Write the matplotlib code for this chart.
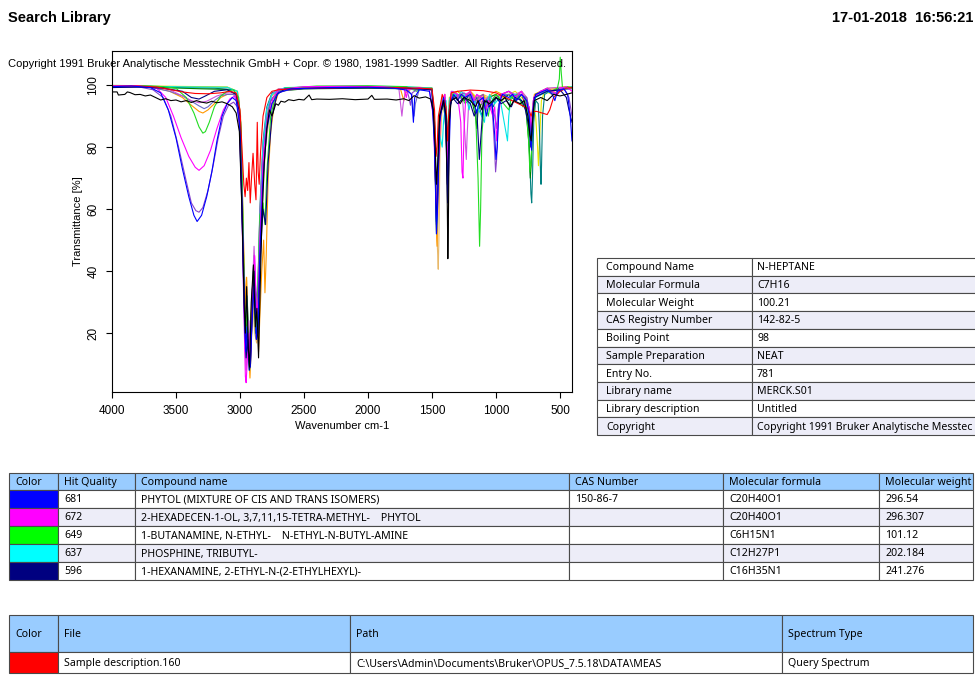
import matplotlib
matplotlib.use("Agg")
import matplotlib.pyplot as plt
from matplotlib.patches import Rectangle

# === Spectra (wavenumber cm-1, transmittance %) ===
phytol_blue = [(4000, 99.5), (3850, 99.7), (3700, 99.2), (3620, 97.5), (3560, 92), (3500, 83), (3450, 73), (3400, 64),
               (3360, 58), (3335, 56), (3300, 58), (3260, 64), (3220, 72), (3180, 82), (3140, 90), (3100, 94),
               (3060, 96), (3030, 95), (3005, 88), (2985, 60), (2965, 25), (2955, 14), (2945, 22), (2930, 12),
               (2920, 9), (2908, 22), (2890, 35), (2872, 18), (2858, 24), (2845, 45), (2820, 70), (2790, 86),
               (2750, 94), (2700, 97.5), (2600, 98.8), (2300, 99.2), (2000, 99.3), (1800, 99), (1700, 98.4),
               (1660, 97), (1645, 88), (1635, 96), (1600, 98.5), (1520, 98), (1495, 92), (1480, 80), (1465, 52),
               (1455, 62), (1440, 88), (1410, 96), (1390, 88), (1378, 62), (1370, 72), (1355, 94), (1330, 97),
               (1300, 95), (1270, 97), (1240, 96), (1200, 97), (1170, 94), (1150, 91), (1130, 95), (1100, 96),
               (1075, 90), (1060, 93), (1030, 94), (1010, 84), (1000, 76), (990, 80), (975, 94), (950, 97),
               (900, 96), (870, 97), (840, 95), (800, 97), (760, 95), (740, 90), (730, 82), (722, 79), (712, 92),
               (690, 97), (600, 98.5), (560, 97), (540, 95), (520, 98), (470, 98.8), (440, 97), (420, 90), (406, 82)]

phytol_magenta = [(4000, 99.8), (3800, 99.8), (3650, 99), (3580, 96), (3520, 90), (3460, 83), (3400, 77), (3350, 73.5),
                  (3320, 72.5), (3280, 74), (3230, 79), (3180, 86), (3130, 92), (3080, 95.5), (3040, 96.5),
                  (3010, 93), (2990, 70), (2970, 28), (2958, 6), (2952, 4), (2942, 12), (2930, 20), (2920, 10),
                  (2905, 30), (2885, 45), (2870, 25), (2855, 32), (2840, 55), (2815, 78), (2780, 90), (2740, 96),
                  (2700, 98.5), (2500, 99.5), (2200, 99.6), (1900, 99.5), (1720, 99), (1700, 96), (1690, 98.5),
                  (1600, 99.2), (1520, 98.5), (1490, 90), (1470, 66), (1460, 58), (1450, 74), (1430, 93),
                  (1400, 97), (1385, 86), (1378, 70), (1368, 88), (1345, 98), (1300, 97), (1275, 88), (1265, 72),
                  (1258, 70), (1250, 85), (1235, 97), (1200, 98), (1170, 95), (1150, 97), (1110, 96), (1080, 92),
                  (1060, 95), (1025, 90), (1010, 93), (995, 82), (985, 88), (960, 97), (900, 98), (850, 96),
                  (800, 98), (770, 94), (740, 93), (722, 85), (705, 96), (650, 98), (600, 99), (520, 97),
                  (500, 99), (450, 99.5), (406, 98)]

amine_green = [(4000, 99.9), (3750, 99.8), (3600, 99.5), (3500, 99), (3420, 96), (3360, 91), (3320, 86.5),
               (3290, 84.5), (3270, 85), (3240, 88), (3200, 93), (3150, 96.5), (3100, 98), (3050, 98.5), (3010, 96),
               (2990, 85), (2970, 40), (2960, 18), (2950, 26), (2935, 20), (2925, 14), (2910, 28), (2895, 40),
               (2875, 22), (2860, 35), (2845, 58), (2820, 62), (2805, 55), (2790, 72), (2760, 90), (2720, 97),
               (2650, 99), (2400, 99.7), (2000, 99.8), (1700, 99.5), (1620, 98), (1580, 99), (1500, 99),
               (1480, 88), (1465, 60), (1455, 68), (1440, 92), (1400, 96), (1380, 82), (1375, 78), (1365, 92),
               (1340, 97), (1300, 95), (1280, 97), (1240, 94), (1200, 96), (1160, 92), (1140, 70), (1128, 48),
               (1120, 60), (1110, 84), (1090, 95), (1060, 90), (1045, 94), (1000, 97), (960, 95), (900, 92),
               (880, 96), (830, 97), (790, 93), (770, 96), (745, 82), (735, 72), (725, 76), (712, 90), (690, 97),
               (600, 99), (560, 98), (520, 99), (505, 102), (498, 109), (490, 104), (480, 99), (440, 99.5),
               (406, 99)]

phosphine_cyan = [(4000, 99.5), (3700, 99.6), (3400, 99.4), (3100, 99.3), (3020, 98), (2995, 88), (2975, 40),
                  (2960, 15), (2950, 22), (2935, 12), (2925, 8), (2910, 25), (2895, 40), (2875, 20), (2860, 30),
                  (2845, 55), (2820, 80), (2790, 92), (2750, 97), (2650, 99.2), (2300, 99.5), (2000, 99.6),
                  (1700, 99.5), (1500, 99), (1480, 85), (1465, 52), (1458, 60), (1445, 85), (1420, 80),
                  (1410, 88), (1390, 95), (1378, 82), (1365, 95), (1340, 98), (1300, 96), (1270, 98), (1230, 96),
                  (1210, 92), (1190, 97), (1090, 88), (1080, 93), (1050, 97), (1010, 94), (970, 96), (910, 82),
                  (900, 90), (880, 97), (800, 97), (770, 95), (740, 88), (722, 80), (710, 93), (690, 96),
                  (600, 98), (540, 97), (480, 98.5), (406, 99.5)]

hexanamine_navy = [(4000, 99.2), (3800, 99.4), (3600, 99), (3450, 98), (3380, 96), (3320, 95.5), (3270, 96.5),
                   (3200, 98), (3100, 98.5), (3030, 97), (3000, 90), (2980, 55), (2960, 20), (2952, 12), (2940, 18),
                   (2928, 8), (2918, 10), (2905, 25), (2890, 40), (2872, 18), (2858, 20), (2845, 42), (2820, 60),
                   (2800, 55), (2780, 75), (2750, 90), (2710, 97), (2650, 98.7), (2300, 99), (2000, 99.1),
                   (1700, 99), (1500, 98.5), (1480, 82), (1465, 55), (1458, 62), (1440, 90), (1400, 95),
                   (1380, 68), (1375, 74), (1360, 93), (1340, 96), (1300, 94), (1250, 96), (1200, 94), (1170, 90),
                   (1150, 92), (1130, 76), (1120, 82), (1100, 94), (1070, 95), (1050, 93), (1000, 96), (960, 94),
                   (920, 95), (880, 93), (850, 96), (800, 95), (770, 92), (740, 86), (728, 80), (718, 86),
                   (700, 96), (600, 98), (500, 98.5), (450, 96), (430, 92), (406, 88)]

query_red = [(4000, 99.6), (3800, 99.7), (3650, 99.4), (3550, 98.6), (3450, 97.8), (3350, 97.3), (3250, 97.2),
             (3150, 97.5), (3080, 98), (3030, 97.5), (3000, 92), (2985, 80), (2970, 68), (2960, 64), (2950, 70),
             (2940, 66), (2930, 75), (2920, 62), (2910, 70), (2898, 78), (2885, 68), (2875, 63), (2865, 88),
             (2858, 72), (2850, 68), (2840, 78), (2820, 90), (2790, 96), (2750, 98), (2700, 98.5), (2500, 99),
             (2200, 99.2), (2000, 99.3), (1800, 99.2), (1600, 99), (1500, 98.8), (1480, 92), (1468, 77),
             (1460, 80), (1450, 90), (1420, 97), (1390, 93), (1378, 82), (1370, 90), (1350, 97.5), (1300, 98),
             (1200, 98.4), (1100, 98.2), (1000, 97.5), (950, 96.5), (900, 95.5), (850, 94.5), (800, 93.5),
             (750, 92.5), (725, 90), (715, 91.5), (680, 91.5), (640, 91), (600, 90.5), (580, 92), (550, 96),
             (500, 98), (450, 99), (406, 99.2)]

hit_black = [(4000, 97.8), (3960, 97.8), (3950, 96.8), (3900, 97), (3880, 97.8), (3860, 97.6), (3820, 96.9),
             (3780, 97), (3740, 96.5), (3700, 96.8), (3660, 96), (3620, 95.2), (3580, 95.6), (3540, 95),
             (3500, 95.2), (3460, 94.6), (3420, 95), (3380, 94.4), (3340, 95), (3300, 94.5), (3260, 94.2),
             (3220, 94.8), (3180, 94.3), (3140, 94.6), (3100, 94), (3060, 93), (3030, 91), (3005, 85), (2985, 60),
             (2968, 30), (2958, 20), (2948, 35), (2935, 15), (2925, 9), (2912, 30), (2895, 42), (2880, 22),
             (2868, 28), (2855, 12), (2845, 30), (2830, 55), (2810, 75), (2790, 86), (2770, 92), (2750, 90),
             (2735, 92), (2720, 94), (2700, 93.5), (2680, 94.8), (2650, 94.5), (2620, 95.3), (2580, 95),
             (2540, 95.4), (2500, 95.2), (2460, 96.8), (2440, 95.3), (2400, 95.5), (2300, 95.4), (2200, 95.6),
             (2100, 95.3), (2000, 95.5), (1970, 96.7), (1950, 95.4), (1850, 95.5), (1780, 95.2), (1720, 95.6),
             (1680, 95), (1640, 96.6), (1600, 95.8), (1550, 96.2), (1510, 95.5), (1490, 92), (1475, 80),
             (1465, 68), (1455, 75), (1440, 90), (1410, 95), (1390, 90), (1380, 60), (1376, 44), (1372, 55),
             (1365, 88), (1350, 95), (1310, 96), (1280, 94), (1250, 96), (1200, 95), (1160, 93), (1140, 95),
             (1110, 92), (1090, 95), (1050, 94), (1000, 96), (960, 95), (930, 96), (890, 93), (860, 95),
             (810, 94), (780, 95), (750, 90), (735, 84), (725, 82), (715, 88), (700, 95), (650, 96), (600, 95),
             (550, 97), (500, 96.5), (450, 97), (406, 97.5)]

hit_orange = [(4000, 99.5), (3700, 99.5), (3550, 98), (3450, 96), (3380, 93.5), (3320, 91.5), (3290, 91),
              (3250, 92), (3200, 94), (3150, 96), (3100, 97), (3040, 97), (3010, 94), (2990, 80), (2970, 45),
              (2958, 28), (2948, 38), (2935, 15), (2922, 5.5), (2910, 18), (2895, 35), (2880, 28), (2868, 32),
              (2855, 14), (2845, 25), (2830, 40), (2815, 50), (2805, 33), (2795, 45), (2780, 70), (2760, 85),
              (2735, 93), (2700, 97.5), (2600, 99), (2300, 99.4), (2000, 99.5), (1750, 99.3), (1720, 95),
              (1710, 97.5), (1650, 99), (1500, 98.8), (1480, 88), (1468, 55), (1460, 48), (1450, 68),
              (1430, 93), (1400, 97), (1378, 78), (1370, 86), (1350, 97), (1300, 98), (1250, 96), (1200, 98),
              (1150, 95), (1100, 97), (1060, 93), (1040, 97), (1000, 98), (950, 97), (900, 98), (850, 96),
              (800, 98), (760, 94), (740, 88), (725, 85), (715, 92), (700, 97), (650, 98), (600, 98.5),
              (500, 99), (406, 99.2)]

hit_purple = [(4000, 99.3), (3800, 99.5), (3680, 98.5), (3600, 96), (3540, 90), (3480, 80), (3420, 69), (3380, 62),
              (3345, 59.5), (3320, 59), (3290, 60.5), (3250, 66), (3210, 74), (3170, 83), (3130, 90), (3090, 93.5),
              (3050, 94.5), (3020, 93), (3000, 85), (2980, 55), (2962, 22), (2953, 12), (2945, 20), (2930, 15),
              (2920, 11), (2908, 28), (2890, 42), (2872, 25), (2860, 30), (2845, 52), (2820, 76), (2790, 89),
              (2760, 95), (2700, 98), (2500, 99), (2200, 99.2), (1900, 99.3), (1700, 99), (1680, 96),
              (1668, 93.5), (1655, 97.5), (1600, 99), (1500, 98.5), (1480, 85), (1466, 57), (1458, 64),
              (1440, 90), (1400, 96), (1385, 85), (1378, 67), (1370, 78), (1355, 95), (1300, 96.5), (1250, 97.5),
              (1200, 96), (1160, 93), (1140, 96), (1100, 97), (1080, 92), (1060, 95), (1030, 93), (1012, 80),
              (1003, 72), (995, 76), (980, 92), (960, 97), (900, 98), (850, 96.5), (810, 97), (760, 96),
              (740, 92), (726, 85), (718, 87), (705, 96), (650, 98), (600, 98.5), (540, 97), (520, 98.5),
              (470, 99), (430, 96), (406, 90)]

hit_tan = [(4000, 99.8), (3600, 99.6), (3300, 99.4), (3100, 99.3), (3020, 98), (2995, 90), (2975, 55), (2962, 30),
           (2950, 38), (2935, 22), (2925, 16), (2915, 26), (2900, 30), (2885, 20), (2870, 16.8), (2858, 24),
           (2845, 40), (2825, 62), (2800, 80), (2770, 90), (2730, 96), (2680, 98.5), (2500, 99.2), (2000, 99.5),
           (1700, 99.3), (1500, 99), (1475, 80), (1462, 52), (1455, 45), (1451, 40.6), (1446, 50), (1438, 78),
           (1420, 94), (1400, 97), (1380, 72), (1372, 80), (1360, 95), (1330, 98), (1300, 96), (1260, 97),
           (1220, 95), (1190, 97), (1150, 96), (1120, 93), (1100, 97), (1050, 96), (1000, 97), (950, 95),
           (900, 97), (860, 96), (800, 98), (760, 96), (735, 90), (724, 84), (712, 90), (695, 97), (650, 98),
           (600, 99), (500, 99.2), (406, 99.5)]

hit_teal = [(4000, 99.5), (3600, 99.3), (3200, 99), (3050, 98.5), (3010, 95), (2990, 80), (2970, 40), (2958, 20),
            (2945, 32), (2930, 18), (2920, 14), (2908, 30), (2890, 45), (2873, 30), (2860, 35), (2845, 60),
            (2820, 82), (2790, 93), (2750, 97.5), (2650, 99), (2300, 99.3), (2000, 99.4), (1700, 99.2),
            (1500, 98.8), (1478, 86), (1466, 64), (1456, 70), (1440, 91), (1410, 95), (1380, 80), (1372, 86),
            (1355, 96), (1300, 97), (1250, 95), (1210, 97), (1180, 94), (1150, 96), (1110, 90), (1095, 94),
            (1060, 96), (1020, 93), (1000, 96), (960, 97), (900, 95), (870, 97), (820, 96), (780, 94),
            (750, 90), (735, 75), (727, 65), (721, 62), (715, 70), (705, 88), (690, 95), (670, 94), (660, 85),
            (652, 72), (648, 68), (644, 74), (636, 90), (620, 97), (580, 98), (500, 99), (406, 99.3)]

hit_yellow = [(4000, 99.7), (3500, 99.6), (3100, 99.4), (3020, 98), (2995, 88), (2975, 50), (2960, 25), (2950, 30),
              (2935, 20), (2925, 15), (2910, 30), (2893, 40), (2875, 25), (2860, 30), (2845, 50), (2825, 72),
              (2800, 88), (2760, 96), (2700, 98.8), (2300, 99.4), (1900, 99.5), (1600, 99.3), (1500, 99),
              (1480, 84), (1468, 58), (1458, 66), (1442, 90), (1420, 96), (1378, 84), (1365, 96), (1300, 98),
              (1240, 96), (1200, 98), (1150, 96), (1100, 97), (1040, 94), (1000, 97), (950, 96), (900, 97),
              (850, 98), (800, 96), (760, 94), (740, 90), (725, 86), (712, 94), (690, 90), (675, 80), (668, 74),
              (660, 82), (645, 95), (620, 98), (560, 97), (530, 99), (470, 99.5), (406, 99.4)]

hit_orchid = [(4000, 99.8), (3700, 99.7), (3550, 98.5), (3450, 96.5), (3380, 95), (3320, 94.3), (3260, 94.8),
              (3180, 96.5), (3100, 97.5), (3040, 97.5), (3010, 94), (2990, 75), (2972, 35), (2960, 15), (2952, 8),
              (2942, 16), (2930, 24), (2920, 12), (2907, 30), (2890, 48), (2872, 28), (2860, 34), (2845, 58),
              (2820, 80), (2790, 92), (2750, 97), (2700, 98.8), (2400, 99.5), (2000, 99.6), (1760, 99.4),
              (1735, 90), (1725, 94), (1700, 99), (1600, 99.2), (1500, 99), (1480, 86), (1466, 62), (1455, 70),
              (1440, 92), (1400, 97), (1380, 80), (1370, 90), (1350, 98), (1300, 97), (1260, 95), (1240, 82),
              (1232, 76), (1225, 84), (1210, 97), (1170, 95), (1150, 97), (1110, 94), (1070, 96), (1040, 92),
              (1020, 96), (960, 97), (900, 98), (850, 97), (800, 98), (760, 96), (730, 90), (720, 88),
              (710, 95), (650, 98), (600, 99), (500, 99.3), (406, 99)]

hit_darkgreen = [(4000, 99.4), (3600, 99.2), (3300, 98.8), (3100, 98.6), (3030, 97), (3000, 88), (2980, 55),
                 (2965, 28), (2955, 18), (2945, 25), (2932, 16), (2922, 12), (2910, 25), (2895, 38), (2878, 20),
                 (2862, 26), (2848, 45), (2825, 70), (2800, 86), (2760, 95), (2700, 98), (2500, 98.8),
                 (2000, 99), (1700, 98.8), (1500, 98.5), (1480, 85), (1466, 56), (1458, 63), (1442, 90),
                 (1400, 95), (1380, 74), (1372, 82), (1358, 95), (1300, 97), (1250, 95), (1200, 97), (1160, 90),
                 (1150, 86), (1140, 92), (1100, 95), (1080, 92), (1060, 96), (1000, 97), (960, 95), (900, 97),
                 (850, 95), (800, 97), (770, 94), (740, 80), (732, 70), (725, 74), (712, 90), (700, 96),
                 (650, 97), (600, 98), (500, 98.5), (406, 99)]

hit_slate = [(4000, 99.4), (3700, 99.3), (3550, 98), (3450, 96.5), (3380, 94.8), (3320, 93.3), (3280, 92.4),
             (3250, 93), (3200, 95), (3150, 96.5), (3100, 97), (3050, 97), (3015, 94), (2995, 82), (2975, 45),
             (2962, 22), (2952, 16), (2940, 24), (2930, 14), (2918, 10), (2906, 26), (2890, 40), (2874, 22),
             (2860, 26), (2846, 48), (2825, 74), (2795, 88), (2760, 95), (2700, 98.2), (2500, 99), (2000, 99.2),
             (1700, 99), (1660, 97), (1640, 90), (1630, 94), (1600, 98.5), (1500, 98.6), (1480, 86),
             (1466, 60), (1456, 68), (1440, 90), (1400, 96), (1380, 78), (1372, 86), (1358, 96), (1300, 97),
             (1240, 96), (1200, 97.5), (1150, 94), (1120, 96), (1080, 94), (1050, 96), (1010, 90), (995, 86),
             (985, 92), (960, 97), (900, 97), (850, 96), (800, 97), (760, 95), (735, 88), (722, 86), (710, 93),
             (690, 97), (600, 98), (520, 97), (500, 98.5), (406, 98.8)]

spectra = [
    (hit_tan, "#E8B868"), (hit_yellow, "#E6E600"), (hit_orange, "#FF9900"), (hit_teal, "#008080"),
    (hit_darkgreen, "#008000"), (hit_slate, "#6A6AC8"), (hit_orchid, "#CC55DD"), (phosphine_cyan, "#00E5E5"),
    (amine_green, "#22DD22"), (hit_purple, "#8844CC"), (phytol_magenta, "#FF00FF"), (hexanamine_navy, "#000080"),
    (query_red, "#FF0000"), (phytol_blue, "#0000FF"), (hit_black, "#000000"),
]

# === Table contents ===
info_labels = ["Compound Name", "Molecular Formula", "Molecular Weight", "CAS Registry Number", "Boiling Point",
               "Sample Preparation", "Entry No.", "Library name", "Library description", "Copyright"]
info_values = ["N-HEPTANE", "C7H16", "100.21", "142-82-5", "98", "NEAT", "781", "MERCK.S01", "Untitled",
               "Copyright 1991 Bruker Analytische Messtec"]

hit_header = ["Color", "Hit Quality", "Compound name", "CAS Number", "Molecular formula", "Molecular weight"]
hit_colors = ["#0000FF", "#FF00FF", "#00FF00", "#00FFFF", "#000080"]
hit_quality = ["681", "672", "649", "637", "596"]
hit_names = ["PHYTOL (MIXTURE OF CIS AND TRANS ISOMERS)", "2-HEXADECEN-1-OL, 3,7,11,15-TETRA-METHYL-    PHYTOL",
             "1-BUTANAMINE, N-ETHYL-    N-ETHYL-N-BUTYL-AMINE", "PHOSPHINE, TRIBUTYL-",
             "1-HEXANAMINE, 2-ETHYL-N-(2-ETHYLHEXYL)-"]
hit_cas = ["150-86-7", "", "", "", ""]
hit_formula = ["C20H40O1", "C20H40O1", "C6H15N1", "C12H27P1", "C16H35N1"]
hit_weight = ["296.54", "296.307", "101.12", "202.184", "241.276"]

file_header = ["Color", "File", "Path", "Spectrum Type"]
file_color = "#FF0000"
file_row = ["Sample description.160", "C:\\Users\\Admin\\Documents\\Bruker\\OPUS_7.5.18\\DATA\\MEAS", "Query Spectrum"]

W, H = 975, 681
fig = plt.figure(figsize=(W / 100, H / 100), dpi=100)

# === Spectrum plot ===
ax = fig.add_axes([112 / W, 1 - 392 / H, 460 / W, 341 / H])
for data, col in spectra:
    ax.plot([p[0] for p in data], [p[1] for p in data], color=col, lw=0.8)
ax.set_xlim(4000, 406)
ax.set_ylim(1.0, 111)
ax.set_xticks([4000, 3500, 3000, 2500, 2000, 1500, 1000, 500])
ax.set_yticks([20, 40, 60, 80, 100])
ax.tick_params(direction="out", length=4, width=0.8, labelsize=8.5, pad=5)
ax.tick_params(axis="y", labelrotation=90)
for lab in ax.get_yticklabels():
    lab.set_va("center")
for sp in ax.spines.values():
    sp.set_linewidth(0.8)
ax.set_xlabel("Wavenumber cm-1", fontsize=8, labelpad=3)
ax.set_ylabel("Transmittance [%]", fontsize=8, labelpad=3)
for t in ax.get_xticklabels() + ax.get_yticklabels() + [ax.xaxis.label, ax.yaxis.label]:
    t.set_family("Liberation Sans")

# === Overlay for texts and tables (pixel coordinates) ===
ov = fig.add_axes([0, 0, 1, 1], zorder=5)
ov.set_xlim(0, W)
ov.set_ylim(H, 0)
ov.axis("off")

ov.text(8, 18, "Search Library", fontsize=10.5, fontweight="bold", family="Liberation Sans", va="center")
ov.text(973, 18, "17-01-2018  16:56:21", fontsize=10.5, fontweight="bold", family="Liberation Sans",
        va="center", ha="right")
cp = ov.text(8, 64, "Copyright 1991 Bruker Analytische Messtechnik GmbH + Copr. \u00a9 1980, 1981-1999 Sadtler.  All Rights Reserved.",
             fontsize=8, family="Liberation Sans", va="center")
fig.canvas.draw()
cp.set_fontsize(cp.get_fontsize() * 560 / cp.get_window_extent().width)

LAV = "#EDEDF8"
HEAD = "#99CCFF"
EDGE = "#4A4A4A"
TFONT = dict(fontsize=7.6, family="Noto Sans", va="center", ha="left", clip_on=False)


def cell(x0, x1, y0, y1, fc):
    ov.add_patch(Rectangle((x0, y0), x1 - x0, y1 - y0, facecolor=fc, edgecolor=EDGE, lw=0.8, clip_on=False))


# info table on the right
ix = [597, 752, 1000]
iy0, ih = 258, 17.7
for i, (lab, val) in enumerate(zip(info_labels, info_values)):
    y0 = iy0 + i * ih
    fc = "white" if i % 2 == 0 else LAV
    cell(ix[0], ix[1], y0, y0 + ih, fc)
    cell(ix[1], ix[2], y0, y0 + ih, fc)
    ov.text(ix[0] + 9, y0 + ih / 2 + 1, lab, **TFONT)
    ov.text(ix[1] + 5, y0 + ih / 2 + 1, val, **TFONT)

# hit list table
hx = [9, 58, 135, 569, 723, 879, 973]
hy = [473, 490, 508, 526, 544, 562, 580]
for j, h in enumerate(hit_header):
    cell(hx[j], hx[j + 1], hy[0], hy[1], HEAD)
    ov.text(hx[j] + 6, (hy[0] + hy[1]) / 2 + 1, h, **TFONT)
for i in range(len(hit_quality)):
    y0, y1 = hy[i + 1], hy[i + 2]
    fc = "white" if i % 2 == 0 else LAV
    cell(hx[0], hx[1], y0, y1, hit_colors[i])
    row = [hit_quality[i], hit_names[i], hit_cas[i], hit_formula[i], hit_weight[i]]
    for j, s in enumerate(row):
        cell(hx[j + 1], hx[j + 2], y0, y1, fc)
        ov.text(hx[j + 1] + 6, (y0 + y1) / 2 + 1, s, **TFONT)

# file table
fx = [9, 58, 350, 782, 973]
fy = [615, 652, 673]
for j, h in enumerate(file_header):
    cell(fx[j], fx[j + 1], fy[0], fy[1], HEAD)
    ov.text(fx[j] + 6, (fy[0] + fy[1]) / 2 + 1, h, **TFONT)
cell(fx[0], fx[1], fy[1], fy[2], file_color)
for j, s in enumerate(file_row):
    cell(fx[j + 1], fx[j + 2], fy[1], fy[2], "white")
    ov.text(fx[j + 1] + 6, (fy[1] + fy[2]) / 2 + 1, s, **TFONT)

fig.savefig("out.png", dpi=100)
